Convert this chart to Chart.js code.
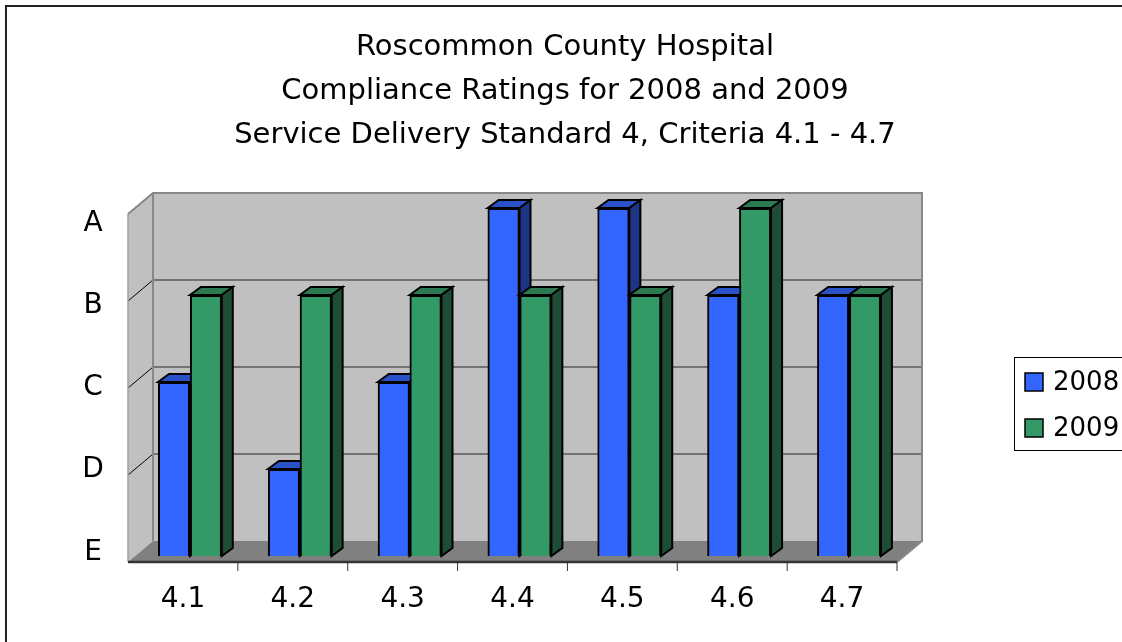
<!DOCTYPE html>
<html>
<head>
<meta charset="utf-8">
<script src="https://cdn.jsdelivr.net/npm/chart.js@4"></script>
<style>
html, body { margin: 0; padding: 0; background: #fff; }
#wrap { width: 1122px; height: 642px; }
</style>
</head>
<body>
<div id="wrap"><canvas id="complianceChart" width="1122" height="642"></canvas></div>
<script>
// chart data
const titleLines = [
    'Roscommon County Hospital',
    'Compliance Ratings for 2008 and 2009',
    'Service Delivery Standard 4, Criteria 4.1 - 4.7'
];
const criteria = ['4.1', '4.2', '4.3', '4.4', '4.5', '4.6', '4.7'];
const gradeLabels = ['E', 'D', 'C', 'B', 'A'];   // value 0 .. 4
const ratings2008 = [2, 1, 2, 4, 4, 3, 3];
const ratings2009 = [3, 3, 3, 3, 3, 4, 3];

const FONT = '"DejaVu Sans", Verdana, sans-serif';
// offsets from the bar front plane
const FRONT = { dx: -7, dy: 6 };
const BACK = { dx: 18, dy: -15 };
const BAR_DEPTH = { dx: 11, dy: -8 };

function poly(ctx, pts, fill, stroke, lw) {
    ctx.beginPath();
    ctx.moveTo(pts[0][0], pts[0][1]);
    for (let i = 1; i < pts.length; i++) ctx.lineTo(pts[i][0], pts[i][1]);
    ctx.closePath();
    if (fill) { ctx.fillStyle = fill; ctx.fill(); }
    if (stroke) { ctx.strokeStyle = stroke; ctx.lineWidth = lw || 1; ctx.stroke(); }
}

function line(ctx, x1, y1, x2, y2, color, lw) {
    ctx.beginPath();
    ctx.moveTo(x1, y1);
    ctx.lineTo(x2, y2);
    ctx.strokeStyle = color;
    ctx.lineWidth = lw;
    ctx.stroke();
}

const room3d = {
    id: 'room3d',
    beforeDatasetsDraw(chart) {
        const ctx = chart.ctx, a = chart.chartArea, ys = chart.scales.y;
        const yb = ys.getPixelForValue(0), yt = ys.getPixelForValue(gradeLabels.length - 1);
        const fl = a.left + FRONT.dx, bl = a.left + BACK.dx, br = a.right + BACK.dx, fr = a.right + FRONT.dx;
        ctx.save();
        ctx.lineJoin = 'miter';
        // back wall, side wall, floor
        poly(ctx, [[bl, yt + BACK.dy], [br, yt + BACK.dy], [br, yb + BACK.dy], [bl, yb + BACK.dy]], '#c0c0c0');
        poly(ctx, [[fl, yt + FRONT.dy], [bl, yt + BACK.dy], [bl, yb + BACK.dy], [fl, yb + FRONT.dy]], '#c0c0c0');
        poly(ctx, [[fl, yb + FRONT.dy], [bl, yb + BACK.dy], [br, yb + BACK.dy], [fr, yb + FRONT.dy]], '#808080');
        // grid lines
        for (let v = 1; v < gradeLabels.length - 1; v++) {
            const y = ys.getPixelForValue(v);
            line(ctx, bl, y + BACK.dy, br, y + BACK.dy, '#5a5a5a', 1.5);
            line(ctx, fl, y + FRONT.dy, bl, y + BACK.dy, '#000', 1);
        }
        // wall edges
        ctx.strokeStyle = '#888';
        ctx.lineWidth = 2;
        ctx.beginPath();
        ctx.moveTo(fl, yt + FRONT.dy);
        ctx.lineTo(bl, yt + BACK.dy);
        ctx.lineTo(br, yt + BACK.dy);
        ctx.lineTo(br, yb + BACK.dy);
        ctx.lineTo(fr, yb + FRONT.dy);
        ctx.moveTo(bl, yt + BACK.dy);
        ctx.lineTo(bl, yb + BACK.dy);
        ctx.stroke();
        line(ctx, fl, yt + FRONT.dy, fl, yb + FRONT.dy, '#a0a0a0', 1.5);
        // category axis on the front plane
        line(ctx, fl, yb + FRONT.dy, fr, yb + FRONT.dy, '#333', 2.5);
        const xs = chart.scales.x;
        const step = (a.right - a.left) / criteria.length;
        for (let i = 0; i < criteria.length; i++) {
            const x = xs.getPixelForValue(i) + step / 2 + FRONT.dx;
            line(ctx, x, yb + FRONT.dy, x, yb + FRONT.dy + 9, '#333', 1);
        }
        ctx.restore();
    },
    afterDatasetsDraw(chart) {
        // redraw each bar front in series order, then its top and side faces,
        // so the 2009 bar sits in front of the 2008 side face
        const ctx = chart.ctx;
        ctx.save();
        ctx.lineJoin = 'miter';
        chart.data.datasets.forEach((ds, di) => {
            const meta = chart.getDatasetMeta(di);
            meta.data.forEach(bar => {
                bar.draw(ctx);
                const p = bar.getProps(['x', 'y', 'base', 'width'], true);
                const l = p.x - p.width / 2, r = p.x + p.width / 2;
                poly(ctx, [[l, p.y], [l + BAR_DEPTH.dx, p.y + BAR_DEPTH.dy], [r + BAR_DEPTH.dx, p.y + BAR_DEPTH.dy], [r, p.y]], ds.topColor, '#000', 2);
                poly(ctx, [[r, p.y], [r + BAR_DEPTH.dx, p.y + BAR_DEPTH.dy], [r + BAR_DEPTH.dx, p.base + BAR_DEPTH.dy], [r, p.base]], ds.sideColor, '#000', 2);
            });
        });
        ctx.restore();
    },
    afterDraw(chart) {
        const ctx = chart.ctx, ys = chart.scales.y, xs = chart.scales.x;
        ctx.save();
        ctx.fillStyle = '#000';
        ctx.textBaseline = 'middle';
        ctx.textAlign = 'center';
        // title
        ctx.font = '29px ' + FONT;
        titleLines.forEach((t, i) => ctx.fillText(t, 565, 47 + i * 44));
        // value axis letters
        ctx.font = '28px ' + FONT;
        const mid = ys.getPixelForValue(2) + FRONT.dy - 2;
        gradeLabels.forEach((g, v) => {
            const y = mid + (ys.getPixelForValue(v) + FRONT.dy - mid) * 0.945;
            ctx.fillText(g, 93, y);
        });
        // category labels
        const base = ys.getPixelForValue(0);
        criteria.forEach((c, i) => ctx.fillText(c, xs.getPixelForValue(i) + FRONT.dx, base + 44));
        // legend
        ctx.strokeStyle = '#000';
        ctx.lineWidth = 1;
        ctx.strokeRect(1014.5, 357.5, 200, 93);
        ctx.textAlign = 'left';
        ctx.font = '26px ' + FONT;
        chart.data.datasets.forEach((ds, i) => {
            const cy = 382 + i * 46;
            ctx.fillStyle = ds.backgroundColor;
            ctx.fillRect(1025, cy - 9, 18, 18);
            ctx.lineWidth = 1.5;
            ctx.strokeRect(1025, cy - 9, 18, 18);
            ctx.fillStyle = '#000';
            ctx.fillText(ds.label, 1053, cy + 1);
        });
        // outer frame
        ctx.strokeStyle = '#222';
        ctx.lineWidth = 2;
        ctx.strokeRect(6, 6, 1300, 900);
        ctx.restore();
    }
};

const data = {
    labels: criteria,
    datasets: [{
        label: '2008',
        data: ratings2008,
        backgroundColor: '#3366ff',
        topColor: '#2a52c8',
        sideColor: '#1c3585',
        borderColor: '#000',
        borderWidth: 2
    },
    {
        label: '2009',
        data: ratings2009,
        backgroundColor: '#339966',
        topColor: '#2b7a52',
        sideColor: '#1d4d34',
        borderColor: '#000',
        borderWidth: 2
    }]
};

const config = {
    type: 'bar',
    data: data,
    options: {
        responsive: false,
        animation: false,
        devicePixelRatio: 1,
        categoryPercentage: 0.58,
        barPercentage: 1.0,
        layout: { padding: { left: 135, right: 218, top: 208, bottom: 86 } },
        scales: {
            x: { display: false },
            y: { display: false, min: 0, max: gradeLabels.length - 1 }
        },
        plugins: {
            legend: { display: false },
            title: { display: false },
            tooltip: { enabled: false }
        }
    },
    plugins: [room3d]
};

const complianceChart = new Chart(document.getElementById('complianceChart'), config);
</script>
</body>
</html>
